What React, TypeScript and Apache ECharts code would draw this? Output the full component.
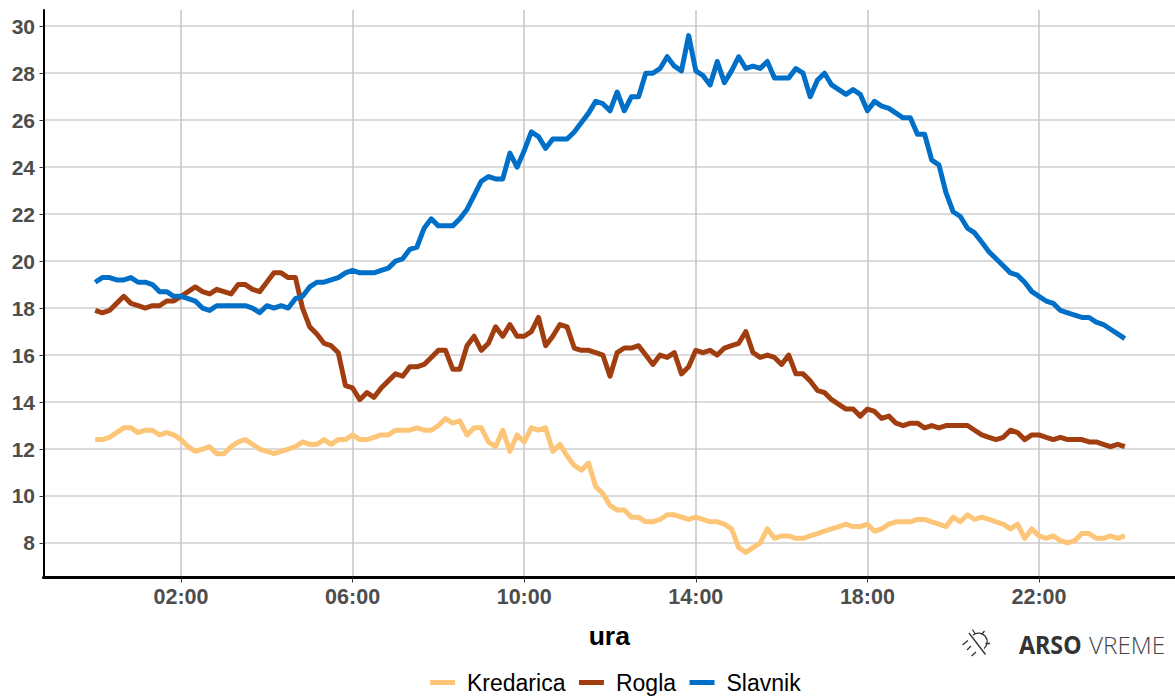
import React, { useEffect, useRef } from "react";
import * as echarts from "echarts";

const seriesNames = ["Kredarica", "Rogla", "Slavnik"];
const seriesColors = ["#FDC578", "#A03E10", "#006FC8"];

const stepsPerHour = 6;

const kredarica = [
  12.4, 12.4, 12.5, 12.7, 12.9, 12.9, 12.7, 12.8, 12.8, 12.6,
  12.7, 12.6, 12.4, 12.1, 11.9, 12.0, 12.1, 11.8, 11.8, 12.1,
  12.3, 12.4, 12.2, 12.0, 11.9, 11.8, 11.9, 12.0, 12.1, 12.3,
  12.2, 12.2, 12.4, 12.2, 12.4, 12.4, 12.6, 12.4, 12.4, 12.5,
  12.6, 12.6, 12.8, 12.8, 12.8, 12.9, 12.8, 12.8, 13.0, 13.3,
  13.1, 13.2, 12.6, 12.9, 12.9, 12.3, 12.1, 12.8, 11.9, 12.6,
  12.3, 12.9, 12.8, 12.9, 11.9, 12.2, 11.7, 11.3, 11.1, 11.4,
  10.4, 10.1, 9.6, 9.4, 9.4, 9.1, 9.1, 8.9, 8.9, 9.0,
  9.2, 9.2, 9.1, 9.0, 9.1, 9.0, 8.9, 8.9, 8.8, 8.6,
  7.8, 7.6, 7.8, 8.0, 8.6, 8.2, 8.3, 8.3, 8.2, 8.2,
  8.3, 8.4, 8.5, 8.6, 8.7, 8.8, 8.7, 8.7, 8.8, 8.5,
  8.6, 8.8, 8.9, 8.9, 8.9, 9.0, 9.0, 8.9, 8.8, 8.7,
  9.1, 8.9, 9.2, 9.0, 9.1, 9.0, 8.9, 8.8, 8.6, 8.8,
  8.2, 8.6, 8.3, 8.2, 8.3, 8.1, 8.0, 8.1, 8.4, 8.4,
  8.2, 8.2, 8.3, 8.2, 8.3,
];

const rogla = [
  17.9, 17.8, 17.9, 18.2, 18.5, 18.2, 18.1, 18.0, 18.1, 18.1,
  18.3, 18.3, 18.5, 18.7, 18.9, 18.7, 18.6, 18.8, 18.7, 18.6,
  19.0, 19.0, 18.8, 18.7, 19.1, 19.5, 19.5, 19.3, 19.3, 18.0,
  17.2, 16.9, 16.5, 16.4, 16.1, 14.7, 14.6, 14.1, 14.4, 14.2,
  14.6, 14.9, 15.2, 15.1, 15.5, 15.5, 15.6, 15.9, 16.2, 16.2,
  15.4, 15.4, 16.4, 16.8, 16.2, 16.5, 17.2, 16.8, 17.3, 16.8,
  16.8, 17.0, 17.6, 16.4, 16.8, 17.3, 17.2, 16.3, 16.2, 16.2,
  16.1, 16.0, 15.1, 16.1, 16.3, 16.3, 16.4, 16.0, 15.6, 16.0,
  15.9, 16.1, 15.2, 15.5, 16.2, 16.1, 16.2, 16.0, 16.3, 16.4,
  16.5, 17.0, 16.1, 15.9, 16.0, 15.9, 15.6, 16.0, 15.2, 15.2,
  14.9, 14.5, 14.4, 14.1, 13.9, 13.7, 13.7, 13.4, 13.7, 13.6,
  13.3, 13.4, 13.1, 13.0, 13.1, 13.1, 12.9, 13.0, 12.9, 13.0,
  13.0, 13.0, 13.0, 12.8, 12.6, 12.5, 12.4, 12.5, 12.8, 12.7,
  12.4, 12.6, 12.6, 12.5, 12.4, 12.5, 12.4, 12.4, 12.4, 12.3,
  12.3, 12.2, 12.1, 12.2, 12.1,
];

const slavnik = [
  19.1, 19.3, 19.3, 19.2, 19.2, 19.3, 19.1, 19.1, 19.0, 18.7,
  18.7, 18.5, 18.5, 18.4, 18.3, 18.0, 17.9, 18.1, 18.1, 18.1,
  18.1, 18.1, 18.0, 17.8, 18.1, 18.0, 18.1, 18.0, 18.4, 18.5,
  18.9, 19.1, 19.1, 19.2, 19.3, 19.5, 19.6, 19.5, 19.5, 19.5,
  19.6, 19.7, 20.0, 20.1, 20.5, 20.6, 21.4, 21.8, 21.5, 21.5,
  21.5, 21.8, 22.2, 22.8, 23.4, 23.6, 23.5, 23.5, 24.6, 24.0,
  24.7, 25.5, 25.3, 24.8, 25.2, 25.2, 25.2, 25.5, 25.9, 26.3,
  26.8, 26.7, 26.4, 27.2, 26.4, 27.0, 27.0, 28.0, 28.0, 28.2,
  28.7, 28.3, 28.1, 29.6, 28.1, 27.9, 27.5, 28.5, 27.6, 28.1,
  28.7, 28.2, 28.3, 28.2, 28.5, 27.8, 27.8, 27.8, 28.2, 28.0,
  27.0, 27.7, 28.0, 27.5, 27.3, 27.1, 27.3, 27.1, 26.4, 26.8,
  26.6, 26.5, 26.3, 26.1, 26.1, 25.4, 25.4, 24.3, 24.1, 22.9,
  22.1, 21.9, 21.4, 21.2, 20.8, 20.4, 20.1, 19.8, 19.5, 19.4,
  19.1, 18.7, 18.5, 18.3, 18.2, 17.9, 17.8, 17.7, 17.6, 17.6,
  17.4, 17.3, 17.1, 16.9, 16.7,
];

const xTickHours = [2, 6, 10, 14, 18, 22];
const yTicks = [8, 10, 12, 14, 16, 18, 20, 22, 24, 26, 28, 30];

const pad = (n: number) => String(n).padStart(2, "0");
const hourLabel = (h: number) => `${pad(h)}:00`;
const toPoints = (values: number[]) =>
  values.map((v, i) => [i / stepsPerHour, v]);

const ICON_D =
  "M19 13 L35.5 34.5 M23 15 A8 8 0 0 1 34 28.5 M22.5 9.5 L25 13.5 M34.5 11 L31.5 14.5 M40 23.5 L35.5 23.5 M12.5 25 L18 20.5 M17 30 L21 26 M21.5 36 L26 32";

export default function App() {
  const ref = useRef<HTMLDivElement>(null);

  useEffect(() => {
    document.body.style.margin = "0";
    echarts.graphic.registerShape("arsoIcon", echarts.graphic.extendPath(ICON_D, {}) as any);
    const chart = echarts.init(ref.current!, undefined, { renderer: "svg" });
    const allValues = [kredarica, rogla, slavnik];
    chart.setOption({
      animation: false,
      backgroundColor: "#ffffff",
      grid: { left: 43.5, top: 10, width: 1131.5, height: 567.5, containLabel: false },
      legend: {
        show: true,
        data: seriesNames,
        left: 425,
        top: 666,
        icon: "rect",
        itemWidth: 25,
        itemHeight: 5,
        itemGap: 13.5,
        textStyle: {
          fontFamily: "Liberation Sans",
          fontSize: 23,
          color: "#000000",
          padding: [0, 0, 0, 7],
        },
      },
      xAxis: {
        type: "value",
        min: -1.205,
        max: 25.17,
        name: "ura",
        nameLocation: "middle",
        nameGap: 45,
        nameTextStyle: {
          fontFamily: "Liberation Sans",
          fontWeight: "bold",
          fontSize: 26.5,
          color: "#000000",
        },
        axisLine: { show: true, onZero: false, lineStyle: { color: "#000000", width: 3 } },
        axisTick: {
          show: true,
          length: 5,
          lineStyle: { color: "#333333", width: 1 },
          customValues: xTickHours,
        },
        axisLabel: {
          show: true,
          margin: 8,
          fontFamily: "Liberation Sans",
          fontWeight: "bold",
          fontSize: 21.5,
          color: "#4D4D4D",
          customValues: xTickHours,
          formatter: (v: number) => hourLabel(v),
        },
        splitLine: { show: true, lineStyle: { color: "#C6C6C6", width: 1.5 } },
      },
      yAxis: {
        type: "value",
        min: 6.53,
        max: 30.69,
        axisLine: { show: true, onZero: false, lineStyle: { color: "#000000", width: 2 } },
        axisTick: {
          show: true,
          length: 4,
          lineStyle: { color: "#333333", width: 1 },
          customValues: yTicks,
        },
        axisLabel: {
          show: true,
          margin: 8.5,
          fontFamily: "Liberation Sans",
          fontWeight: "bold",
          fontSize: 21,
          color: "#4D4D4D",
          customValues: yTicks,
          formatter: (v: number) => String(v),
        },
        splitLine: { show: true, lineStyle: { color: "#CFCFCF", width: 1.5 } },
      },
      series: seriesNames.map((name, i) => ({
        name,
        type: "line",
        data: toPoints(allValues[i]),
        showSymbol: false,
        symbol: "none",
        smooth: false,
        itemStyle: { color: seriesColors[i] },
        lineStyle: { color: seriesColors[i], width: 5, cap: "butt", join: "round" },
      })),
      graphic: [
        {
          type: "arsoIcon",
          x: 950,
          y: 620,
          silent: true,
          style: { fill: "none", stroke: "#333333", lineWidth: 1.3 },
        },
        {
          type: "text",
          x: 1019,
          y: 644,
          scaleX: 0.95,
          style: {
            text: "ARSO",
            fontFamily: "Noto Sans",
            fontWeight: "bold",
            fontSize: 24.5,
            fill: "#333333",
            verticalAlign: "middle",
          },
        },
        {
          type: "text",
          x: 1089,
          y: 644,
          scaleX: 0.99,
          style: {
            text: "VREME",
            fontFamily: "Open Sans",
            fontWeight: 300,
            fontSize: 24.5,
            fill: "#444444",
            verticalAlign: "middle",
          },
        },
      ],
    });
    return () => chart.dispose();
  }, []);

  return <div ref={ref} style={{ width: 1175, height: 698 }} />;
}
